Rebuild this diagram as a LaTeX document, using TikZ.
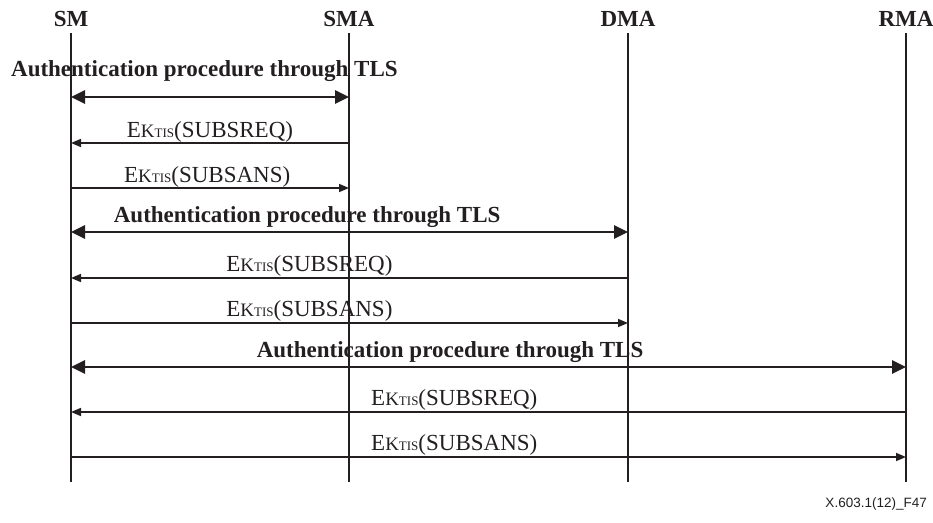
\documentclass[tikz,border=0pt]{standalone}
\usepackage{fontspec}
\setmainfont{Liberation Serif}
\newfontfamily\figfont{Liberation Sans}
\usetikzlibrary{arrows.meta}

\definecolor{ink}{HTML}{231F20}

\tikzset{
  head/.style={font=\fontsize{23}{25}\selectfont\bfseries, text=ink, inner sep=1pt},
  life/.style={draw=ink, line width=1.8pt},
  auth/.style={draw=ink, line width=2.6pt, {Triangle[length=14pt,width=13pt]}-{Triangle[length=14pt,width=13pt]}},
  msg/.style={draw=ink, line width=1.6pt, -{Triangle[length=10pt,width=8pt]}},
  authlbl/.style={font=\fontsize{23}{25}\selectfont\bfseries, text=ink, anchor=base, inner sep=0pt},
  msglbl/.style={font=\fontsize{23}{25}\selectfont, text=ink, anchor=base, inner sep=0pt}
}
\newcommand{\ektis}{E{\fontsize{19}{20}\selectfont K}{\fontsize{13}{14}\selectfont TIS}}

\begin{document}
\begin{tikzpicture}[x=1pt, y=-1pt]
    \useasboundingbox (0,0) rectangle (933,522);

    % Entities and lifelines
    \node[head] (sm) at (71,19) {SM};
    \node[head] (sma) at (349,19) {SMA};
    \node[head] (dma) at (628,19) {DMA};
    \node[head] (rma) at (906,19) {RMA};
    \coordinate (top) at (0,33);
    \coordinate (bottom) at (0,482);
    \foreach \n in {sm,sma,dma,rma}
        \draw[life] (\n |- top) -- (\n |- bottom);

    % Rows
    \coordinate (r1) at (0,97);
    \coordinate (r2) at (0,143);
    \coordinate (r3) at (0,188);
    \coordinate (r4) at (0,232);
    \coordinate (r5) at (0,278);
    \coordinate (r6) at (0,323);
    \coordinate (r7) at (0,367);
    \coordinate (r8) at (0,412);
    \coordinate (r9) at (0,457);

    % SM <-> SMA
    \draw[auth] (sm |- r1) -- (sma |- r1)
        node[authlbl, pos=0.48, yshift=21pt] {Authentication procedure through TLS};
    \draw[msg] (sma |- r2) -- (sm |- r2)
        node[msglbl, pos=0.5, yshift=6pt] {\ektis(SUBSREQ)};
    \draw[msg] (sm |- r3) -- (sma |- r3)
        node[msglbl, pos=0.49, yshift=6pt] {\ektis(SUBSANS)};

    % SM <-> DMA
    \draw[auth] (sm |- r4) -- (dma |- r4)
        node[authlbl, pos=0.424, yshift=10pt] {Authentication procedure through TLS};
    \draw[msg] (dma |- r5) -- (sm |- r5)
        node[msglbl, pos=0.572, yshift=7pt] {\ektis(SUBSREQ)};
    \draw[msg] (sm |- r6) -- (dma |- r6)
        node[msglbl, pos=0.428, yshift=7pt] {\ektis(SUBSANS)};

    % SM <-> RMA
    \draw[auth] (sm |- r7) -- (rma |- r7)
        node[authlbl, pos=0.454, yshift=10pt] {Authentication procedure through TLS};
    \draw[msg] (rma |- r8) -- (sm |- r8)
        node[msglbl, pos=0.541, yshift=7pt] {\ektis(SUBSREQ)};
    \draw[msg] (sm |- r9) -- (rma |- r9)
        node[msglbl, pos=0.459, yshift=7pt] {\ektis(SUBSANS)};

    \node[font=\figfont\fontsize{13.5}{15}\selectfont, text=ink, anchor=base east, inner sep=0pt] (figid) at (927,507) {X.603.1(12)\_F47};
\end{tikzpicture}
\end{document}
